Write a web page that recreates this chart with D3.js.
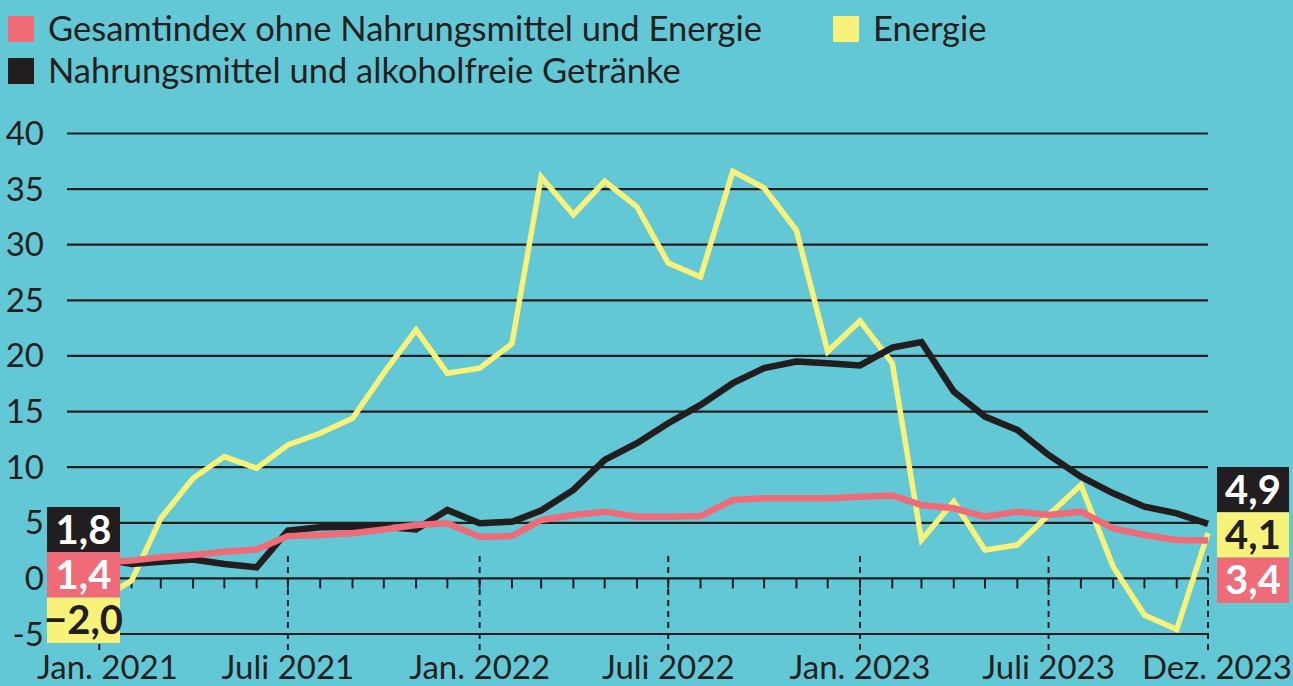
<!DOCTYPE html>
<html><head><meta charset="utf-8">
<script src="https://cdn.jsdelivr.net/npm/d3@7"></script>
<style>
html,body{margin:0;padding:0;background:#62c8d6;}
svg{display:block;}
text{font-family:Lato,"Open Sans",sans-serif;}
</style></head>
<body>
<svg id="c" width="1293" height="686"></svg>
<script>
const months = d3.range(36).map(i => new Date(2021, i, 1));
const gesamt = [1.4,1.6,1.9,2.1,2.4,2.6,3.8,3.9,4.05,4.4,4.8,4.95,3.75,3.8,5.25,5.7,6.0,5.55,5.55,5.6,7.05,7.2,7.2,7.2,7.35,7.45,6.6,6.3,5.55,6.0,5.7,6.0,4.5,3.9,3.45,3.4];
const nahrung = [1.8,1.3,1.5,1.7,1.3,1.0,4.3,4.6,4.65,4.65,4.4,6.15,4.95,5.1,6.1,7.95,10.65,12.15,13.95,15.6,17.55,18.9,19.5,19.35,19.15,20.75,21.25,16.8,14.55,13.35,11.1,9.15,7.65,6.45,5.85,4.9];
const energie = [-2.0,-0.2,5.4,9.0,10.95,9.9,12.0,13.05,14.4,18.45,22.35,18.45,18.9,21.1,36.1,32.7,35.7,33.4,28.35,27.1,36.6,35.1,31.3,20.4,23.15,19.35,3.45,6.9,2.55,3.0,5.7,8.4,1.05,-3.3,-4.6,4.1];
const yTicks = [-5,0,5,10,15,20,25,30,35,40];
const xLabels = [
  {date:new Date(2021,0,1), text:"Jan. 2021"},
  {date:new Date(2021,6,1), text:"Juli 2021"},
  {date:new Date(2022,0,1), text:"Jan. 2022"},
  {date:new Date(2022,6,1), text:"Juli 2022"},
  {date:new Date(2023,0,1), text:"Jan. 2023"},
  {date:new Date(2023,6,1), text:"Juli 2023"},
  {date:new Date(2023,11,1), text:"Dez. 2023"}
];
const series = [
  {name:"Energie", values:energie, color:"#f9f27a", width:5.5},
  {name:"Nahrungsmittel und alkoholfreie Getränke", values:nahrung, color:"#221e1f", width:6.5},
  {name:"Gesamtindex ohne Nahrungsmittel und Energie", values:gesamt, color:"#f06b78", width:6.5}
];
const startLabels = [
  {text:"1,8", bg:"#221e1f", fg:"#ffffff"},
  {text:"1,4", bg:"#f06b78", fg:"#ffffff"},
  {text:"\u22122,0", bg:"#f9f27a", fg:"#221e1f"}
];
const endLabels = [
  {text:"4,9", bg:"#221e1f", fg:"#ffffff"},
  {text:"4,1", bg:"#f9f27a", fg:"#221e1f"},
  {text:"3,4", bg:"#f06b78", fg:"#ffffff"}
];
const legend = [
  {text:"Gesamtindex ohne Nahrungsmittel und Energie", color:"#f06b78", x:8, y:16},
  {text:"Energie", color:"#f9f27a", x:833, y:16},
  {text:"Nahrungsmittel und alkoholfreie Getränke", color:"#221e1f", x:8, y:58}
];

const svg = d3.select("#c");
const ink = "#231f20";
const x = d3.scaleTime().domain([months[0], months[35]]).range([99.3, 1208]);
const y = d3.scaleLinear().domain([-5, 40]).range([634, 133.5]);

// legend
const lg = svg.append("g");
legend.forEach(l => {
  lg.append("rect").attr("x", l.x).attr("y", l.y).attr("width", 26).attr("height", 26).attr("fill", l.color);
  lg.append("text").attr("x", l.x + 40).attr("y", l.y + 25).attr("font-size", 34.5).attr("fill", ink).text(l.text);
});

// grid
svg.append("g").selectAll("line").data(yTicks).join("line")
  .attr("x1", 67).attr("x2", 1208).attr("y1", d => y(d)).attr("y2", d => y(d))
  .attr("stroke", ink).attr("stroke-width", 2.2);
svg.append("g").selectAll("text").data(yTicks).join("text")
  .attr("x", 44).attr("y", d => y(d) + 11.5).attr("text-anchor", "end")
  .attr("font-size", 33).attr("fill", ink).text(d => d);

// month ticks
svg.append("g").selectAll("line").data(months).join("line")
  .attr("x1", d => x(d)).attr("x2", d => x(d)).attr("y1", y(0)).attr("y2", y(0) + 10)
  .attr("stroke", ink).attr("stroke-width", 2);
// dashed
svg.append("g").selectAll("line").data(xLabels).join("line")
  .attr("x1", d => x(d.date)).attr("x2", d => x(d.date)).attr("y1", 556).attr("y2", 655)
  .attr("stroke", ink).attr("stroke-width", 2).attr("stroke-dasharray", "6,5");

// x labels
svg.append("g").selectAll("text").data(xLabels).join("text")
  .attr("x", (d, i) => i === 0 ? 37 : i === xLabels.length - 1 ? 1292 : x(d.date))
  .attr("y", 679)
  .attr("text-anchor", (d, i) => i === 0 ? "start" : i === xLabels.length - 1 ? "end" : "middle")
  .attr("font-size", 33).attr("fill", ink).text(d => d.text);

// lines
const line = d3.line().x((d, i) => x(months[i])).y(d => y(d)).curve(d3.curveLinear);
svg.append("g").selectAll("path").data(series).join("path")
  .attr("d", d => line(d.values)).attr("fill", "none")
  .attr("stroke", d => d.color).attr("stroke-width", d => d.width)
  .attr("stroke-linejoin", "miter").attr("stroke-linecap", "butt");

// value boxes
function boxes(data, bx, by, w, h) {
  const g = svg.append("g");
  data.forEach((d, i) => {
    g.append("rect").attr("x", bx).attr("y", by + i * h).attr("width", w).attr("height", h).attr("fill", d.bg);
    g.append("text").attr("x", bx + w / 2).attr("y", by + i * h + h / 2 + 14).attr("text-anchor", "middle")
      .attr("font-size", 40).attr("font-weight", 700).attr("fill", d.fg).text(d.text);
  });
}
boxes(startLabels, 47, 507, 73, 45.3);
boxes(endLabels, 1217, 467, 72, 45.3);
</script>
</body></html>
